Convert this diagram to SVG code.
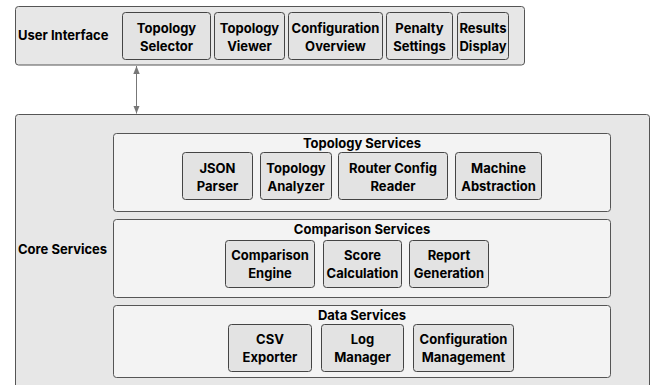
<svg xmlns="http://www.w3.org/2000/svg" width="651" height="385" viewBox="0 0 651 385">
<defs>
<style>
text{font-family:"Inter","Liberation Sans",sans-serif;font-weight:700;font-size:13px;fill:#000}
.c{text-anchor:middle}
.outer{fill:#e7e7e7;stroke:#555;stroke-width:1}
.sub{fill:#f3f3f3;stroke:#555;stroke-width:1}
.node{fill:#e3e3e3;stroke:#444;stroke-width:1}
.edge{stroke:#777;stroke-width:1;fill:none}
</style>
<marker id="ah" viewBox="0 0 10 10" refX="10" refY="5" markerWidth="8" markerHeight="8" markerUnits="userSpaceOnUse" orient="auto-start-reverse">
<path d="M0,1 L10,5 L0,9 z" fill="#777"/>
</marker>
</defs>
<g id="user-interface">
<rect class="outer" x="15.5" y="6.5" width="509" height="58.5" rx="3"/>
<text x="18" y="40">User Interface</text>
</g>
<g id="core-services">
<rect class="outer" x="15.5" y="114.5" width="634" height="285" rx="3"/>
<text x="18" y="254">Core Services</text>
</g>
<g id="topology-services">
<rect class="sub" x="113.5" y="133.5" width="497" height="78" rx="3"/>
<text class="c" x="362" y="148">Topology Services</text>
</g>
<g id="comparison-services">
<rect class="sub" x="113.5" y="219.5" width="497" height="78" rx="3"/>
<text class="c" x="362" y="234">Comparison Services</text>
</g>
<g id="data-services">
<rect class="sub" x="113.5" y="305.5" width="497" height="72" rx="3"/>
<text class="c" x="362" y="320">Data Services</text>
</g>
<g id="topology-selector">
<rect class="node" x="122.5" y="12.5" width="88" height="47" rx="3"/>
<text class="c" x="166.5" y="32.5">Topology</text>
<text class="c" x="166.5" y="50.5">Selector</text>
</g>
<g id="topology-viewer">
<rect class="node" x="214.5" y="12.5" width="70" height="47" rx="3"/>
<text class="c" x="249.5" y="32.5">Topology</text>
<text class="c" x="249.5" y="50.5">Viewer</text>
</g>
<g id="configuration-overview">
<rect class="node" x="288.5" y="12.5" width="94" height="47" rx="3"/>
<text class="c" x="335.5" y="32.5">Configuration</text>
<text class="c" x="335.5" y="50.5">Overview</text>
</g>
<g id="penalty-settings">
<rect class="node" x="386.5" y="12.5" width="66" height="47" rx="3"/>
<text class="c" x="419.5" y="32.5">Penalty</text>
<text class="c" x="419.5" y="50.5">Settings</text>
</g>
<g id="results-display">
<rect class="node" x="457.5" y="12.5" width="51" height="47" rx="3"/>
<text class="c" x="483" y="32.5">Results</text>
<text class="c" x="483" y="50.5">Display</text>
</g>
<g id="json-parser">
<rect class="node" x="182.5" y="152.5" width="70" height="47" rx="3"/>
<text class="c" x="217.5" y="172.5">JSON</text>
<text class="c" x="217.5" y="190.5">Parser</text>
</g>
<g id="topology-analyzer">
<rect class="node" x="260.5" y="152.5" width="71" height="47" rx="3"/>
<text class="c" x="296" y="172.5">Topology</text>
<text class="c" x="296" y="190.5">Analyzer</text>
</g>
<g id="router-config-reader">
<rect class="node" x="338.5" y="152.5" width="109" height="47" rx="3"/>
<text class="c" x="393" y="172.5">Router Config</text>
<text class="c" x="393" y="190.5">Reader</text>
</g>
<g id="machine-abstraction">
<rect class="node" x="455.5" y="152.5" width="86" height="47" rx="3"/>
<text class="c" x="498.5" y="172.5">Machine</text>
<text class="c" x="498.5" y="190.5">Abstraction</text>
</g>
<g id="comparison-engine">
<rect class="node" x="225.5" y="240.5" width="89" height="47" rx="3"/>
<text class="c" x="270" y="259.5">Comparison</text>
<text class="c" x="270" y="277.5">Engine</text>
</g>
<g id="score-calculation">
<rect class="node" x="323.5" y="240.5" width="78" height="47" rx="3"/>
<text class="c" x="362.5" y="259.5">Score</text>
<text class="c" x="362.5" y="277.5">Calculation</text>
</g>
<g id="report-generation">
<rect class="node" x="409.5" y="240.5" width="79" height="47" rx="3"/>
<text class="c" x="449" y="259.5">Report</text>
<text class="c" x="449" y="277.5">Generation</text>
</g>
<g id="csv-exporter">
<rect class="node" x="228.5" y="324.5" width="83" height="47" rx="3"/>
<text class="c" x="270" y="343.5">CSV</text>
<text class="c" x="270" y="361.5">Exporter</text>
</g>
<g id="log-manager">
<rect class="node" x="321.5" y="324.5" width="82" height="47" rx="3"/>
<text class="c" x="362.5" y="343.5">Log</text>
<text class="c" x="362.5" y="361.5">Manager</text>
</g>
<g id="configuration-management">
<rect class="node" x="413.5" y="324.5" width="100" height="47" rx="3"/>
<text class="c" x="463.5" y="343.5">Configuration</text>
<text class="c" x="463.5" y="361.5">Management</text>
</g>
<g id="connectors">
<line class="edge" x1="136.5" y1="66" x2="136.5" y2="113.5" marker-start="url(#ah)" marker-end="url(#ah)"/>
</g>
</svg>
